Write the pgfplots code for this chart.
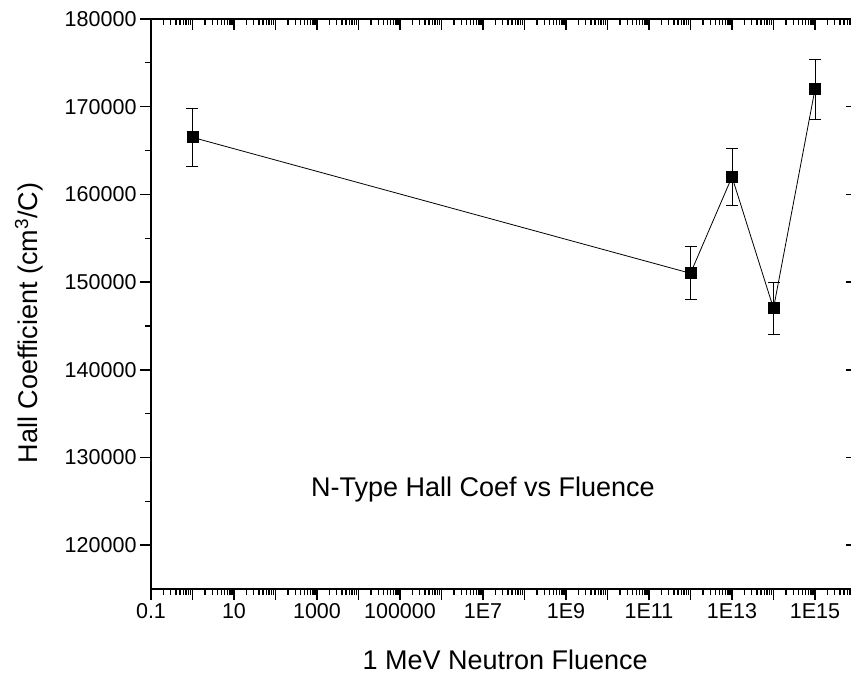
\documentclass[border=0pt]{standalone}
\usepackage{fontspec}
\setmainfont{Liberation Sans}
\usepackage{pgfplots}
\usepackage{pgfplotstable}
\pgfplotsset{compat=1.18}

\pgfplotstableread{
x y err
1 166500 3330
1e12 151000 3000
1e13 162000 3240
1e14 147000 2950
1e15 172000 3420
}\datatable

\begin{document}
\begin{tikzpicture}
\begin{axis}[name=main,
  scale only axis, width=705.5bp, height=570bp,
  xmode=log, xmin=0.1, xmax=1e16, ymin=115000, ymax=180000,
  xtick={1e-1,1e0,1e1,1e2,1e3,1e4,1e5,1e6,1e7,1e8,1e9,1e10,1e11,1e12,1e13,1e14,1e15,1e16},
  ytick={120000,130000,140000,150000,160000,170000,180000},
  minor y tick num=1,
  major tick length=11bp, minor tick length=6bp,
  axis line style={line width=2bp},
  major tick style={line width=1.6bp, black},
  minor tick style={line width=1.3bp, black},
  xticklabels={0.1,{},10,{},1000,{},100000,{},1E7,{},1E9,{},1E11,{},1E13,{},1E15,{}},
  xtick pos=bottom, ytick pos=left, tick align=outside,
  tick label style={font=\fontsize{21.5bp}{24bp}\selectfont},
  yticklabel style={/pgf/number format/.cd, fixed, set thousands separator={}, assume math mode=true},
  scaled y ticks=false,
  xlabel={1 MeV Neutron Fluence},
  ylabel={Hall Coefficient (cm\textsuperscript{3}/C)},
  label style={font=\fontsize{27bp}{30bp}\selectfont},
  xlabel style={at={(axis description cs:0.502,-0.1246)}, anchor=center},
  ylabel style={at={(axis description cs:-0.173,0.467)}, anchor=center},
]
\addplot[black, line width=0.8bp, mark=square*, mark size=5.5bp, mark options={solid},
  error bars/.cd, y dir=both, y explicit,
  error mark=|,
  error bar style={line width=1bp},
  error mark options={mark size=6bp, line width=1bp}]
  table[x=x, y=y, y error=err]{\datatable};
\node[font=\fontsize{27bp}{30bp}\selectfont] at (axis cs:1e7,126300) {N-Type Hall Coef vs Fluence};
\end{axis}
\begin{axis}[at={(main.south west)}, anchor=south west,
  scale only axis, width=705.5bp, height=570bp,
  xmode=log, xmin=0.1, xmax=1e16, ymin=115000, ymax=180000,
  xtick={1e-1,1e0,1e1,1e2,1e3,1e4,1e5,1e6,1e7,1e8,1e9,1e10,1e11,1e12,1e13,1e14,1e15,1e16},
  ytick={120000,130000,140000,150000,160000,170000,180000},
  minor y tick num=1,
  major tick length=11bp, minor tick length=6bp,
  axis line style={line width=2bp},
  major tick style={line width=1.6bp, black},
  minor tick style={line width=1.3bp, black},
  xticklabels={}, yticklabels={}, scaled ticks=false,
  xtick pos=top, ytick pos=right, tick align=inside]
\end{axis}
\pgfresetboundingbox
\path ([shift={(-151bp,-86bp)}]main.south west) rectangle ([shift={(700bp,589bp)}]main.south west);
\end{tikzpicture}
\end{document}
